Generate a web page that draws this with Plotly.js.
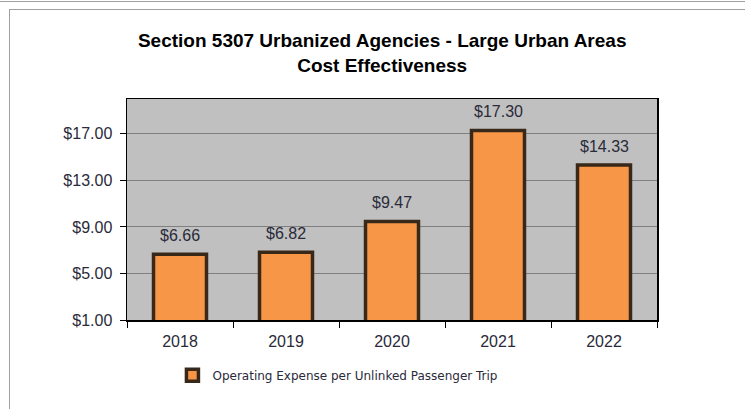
<!DOCTYPE html>
<html>
<head>
<meta charset="utf-8">
<script src="https://cdn.plot.ly/plotly-3.0.1.min.js"></script>
<style>
html,body{margin:0;padding:0;background:#fff;}
#wrap{position:relative;width:745px;height:409px;overflow:hidden;}
#chart{position:absolute;left:0;top:0;width:745px;height:409px;}
#topline{position:absolute;left:0;top:1px;width:745px;height:0;border-top:1px solid #a0a0a0;}
#frame{position:absolute;left:9px;top:9px;width:745px;height:420px;border-top:1px solid #a0a0a0;border-left:1px solid #a0a0a0;pointer-events:none;}
</style>
</head>
<body>
<div id="wrap">
<div id="chart"></div>
<div id="topline"></div>
<div id="frame"></div>
</div>
<script>
var years = ['2018', '2019', '2020', '2021', '2022'];
var costPerTrip = [6.66, 6.82, 9.47, 17.30, 14.33];
var valueLabels = ['$6.66', '$6.82', '$9.47', '$17.30', '$14.33'];
var yTickVals = [1, 5, 9, 13, 17];
var yTickText = ['$1.00', '$5.00', '$9.00', '$13.00', '$17.00'];
var seriesName = 'Operating Expense per Unlinked Passenger Trip';
var titleText = 'Section 5307 Urbanized Agencies - Large Urban Areas<br>Cost Effectiveness';

var trace = {
  type: 'bar',
  x: years,
  y: costPerTrip,
  name: seriesName,
  marker: {color: '#F79646', line: {color: '#38281a', width: 3.5}},
  hoverinfo: 'none',
  showlegend: true
};

// category axis positions are indices of the categories
var annotations = years.map(function(yr, i){
  return {
    x: i, y: costPerTrip[i], xref: 'x', yref: 'y',
    text: valueLabels[i], showarrow: false,
    yanchor: 'bottom', yshift: 8,
    font: {family: 'Liberation Sans, Arial, sans-serif', size: 16, color: '#2a2a3a'}
  };
});

var layout = {
  width: 745, height: 409,
  margin: {l: 127, r: 88, t: 99, b: 89},
  paper_bgcolor: '#ffffff',
  plot_bgcolor: '#c0c0c0',
  bargap: 0.5,
  title: {
    text: titleText,
    x: 0.513, xanchor: 'center', y: 0.884, yanchor: 'middle',
    font: {family: 'Liberation Sans, Arial, sans-serif', size: 19, color: '#000', weight: 'bold'}
  },
  xaxis: {
    type: 'category',
    range: [-0.5, 4.5],
    showline: true, linecolor: '#000', linewidth: 1.5, mirror: true,
    ticks: 'outside', tickson: 'boundaries', ticklen: 6, tickcolor: '#000', tickwidth: 1,
    ticklabelstandoff: 6,
    showgrid: false,
    tickfont: {family: 'Liberation Sans, Arial, sans-serif', size: 16, color: '#2a2a3a'},
    fixedrange: true
  },
  yaxis: {
    range: [1, 20],
    tickvals: yTickVals, ticktext: yTickText,
    showline: true, linecolor: '#000', linewidth: 1.5, mirror: true,
    ticks: 'outside', ticklen: 6, tickcolor: '#000', tickwidth: 1,
    ticklabelstandoff: 4,
    showgrid: true, gridcolor: '#808080', gridwidth: 1,
    zeroline: false,
    tickfont: {family: 'Liberation Sans, Arial, sans-serif', size: 16, color: '#2a2a3a'},
    fixedrange: true
  },
  showlegend: true,
  legend: {
    orientation: 'h', x: 0.398, xanchor: 'center', y: -0.25, yanchor: 'middle',
    font: {family: 'DejaVu Sans, Verdana, sans-serif', size: 12, color: '#2a2a3a'},
    bgcolor: 'rgba(0,0,0,0)'
  },
  annotations: annotations
};

Plotly.newPlot('chart', [trace], layout, {displayModeBar: false, staticPlot: true});
</script>
</body>
</html>
